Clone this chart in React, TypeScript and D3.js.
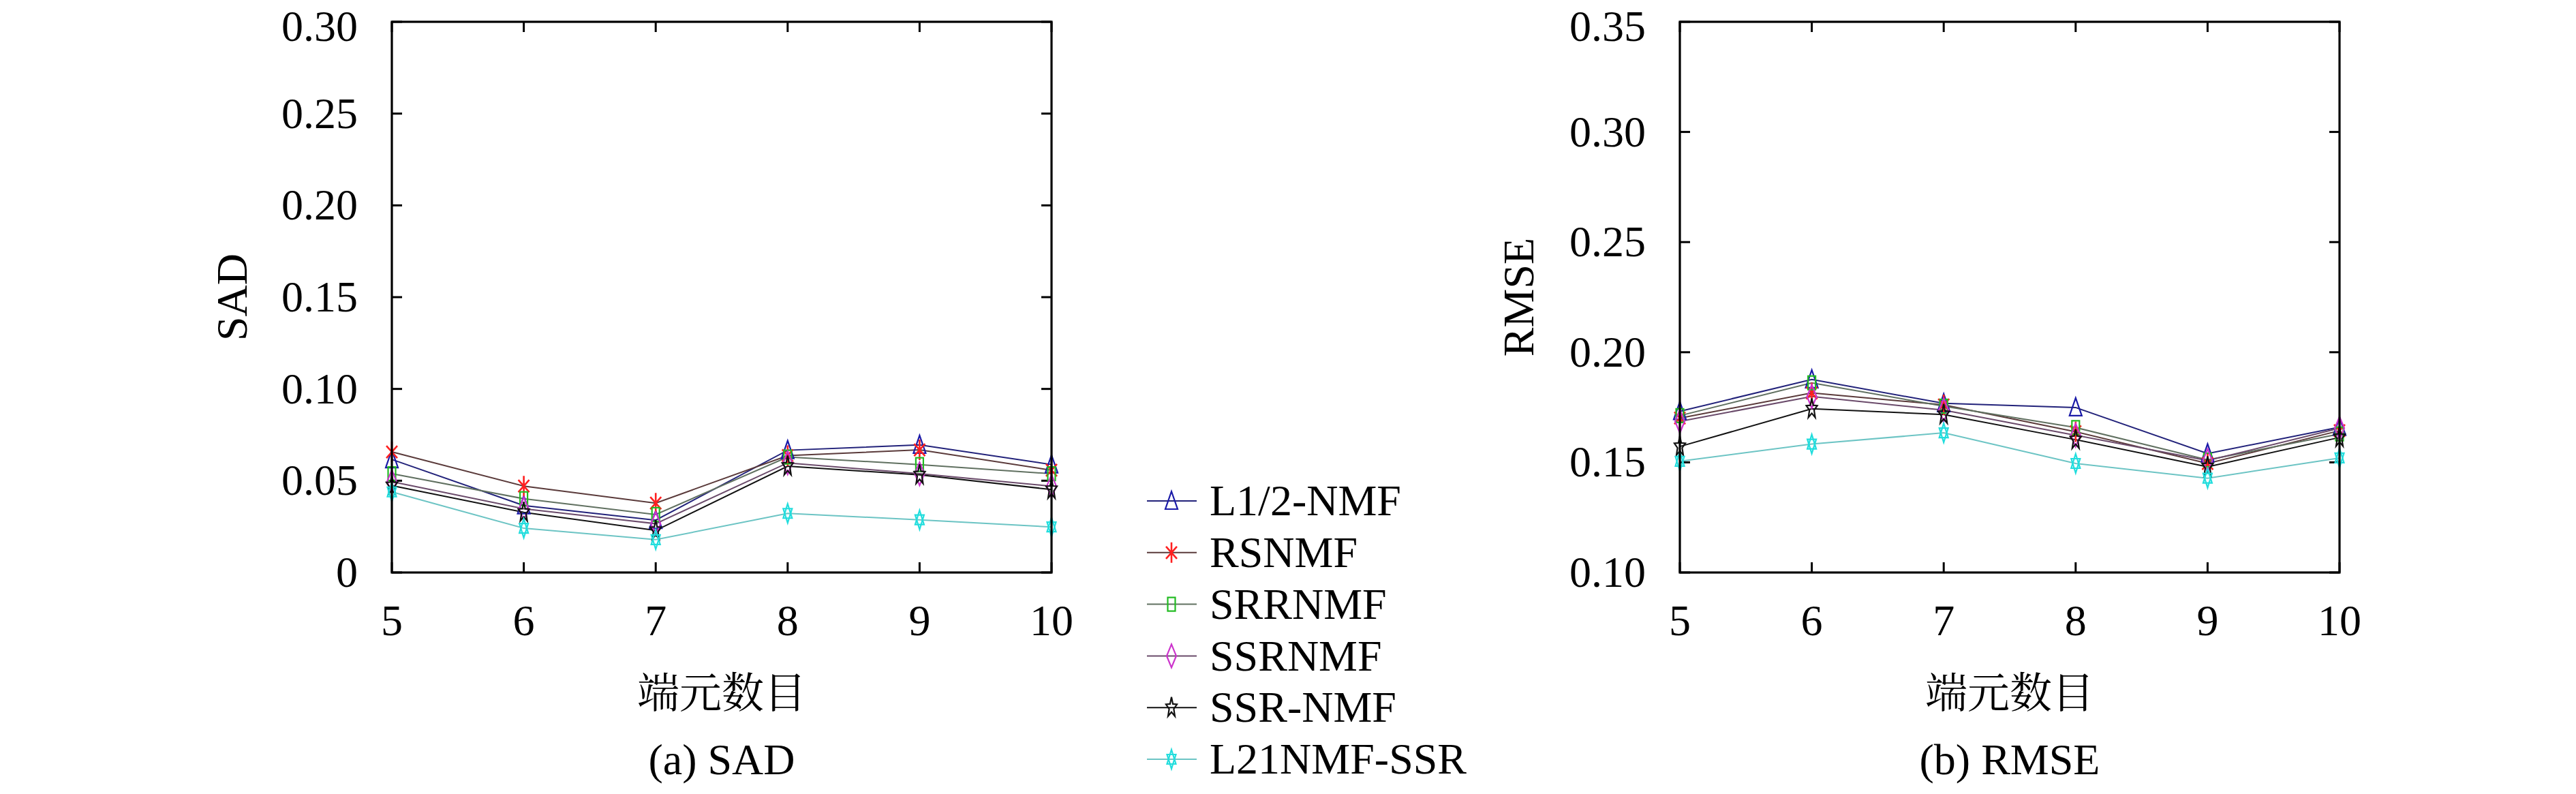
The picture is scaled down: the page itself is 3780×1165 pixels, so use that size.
import React from 'react';
import * as d3 from 'd3';

const endmembers = [5, 6, 7, 8, 9, 10];

const seriesNames = ['L1/2-NMF', 'RSNMF', 'SRRNMF', 'SSRNMF', 'SSR-NMF', 'L21NMF-SSR'];

// SAD values, one array per method
const sadL12 = [0.0616, 0.0365, 0.0285, 0.0666, 0.0695, 0.0588];
const sadRS = [0.0657, 0.0471, 0.0378, 0.0637, 0.0668, 0.0557];
const sadSRR = [0.0538, 0.0402, 0.0316, 0.0629, 0.0588, 0.0538];
const sadSSRN = [0.0495, 0.0347, 0.0266, 0.0597, 0.0538, 0.047];
const sadSSR = [0.0473, 0.0328, 0.0229, 0.0579, 0.0532, 0.0452];
const sadL21 = [0.0439, 0.0241, 0.0179, 0.0322, 0.0287, 0.0248];

// RMSE values
const rmseL12 = [0.1732, 0.1876, 0.1768, 0.1749, 0.154, 0.166];
const rmseRS = [0.1701, 0.1815, 0.1761, 0.1639, 0.1495, 0.1644];
const rmseSRR = [0.1712, 0.1861, 0.1755, 0.1658, 0.1511, 0.1629];
const rmseSSRN = [0.1686, 0.1799, 0.1737, 0.1623, 0.1508, 0.1655];
const rmseSSR = [0.1572, 0.1743, 0.1717, 0.1603, 0.148, 0.1613];
const rmseL21 = [0.1505, 0.1583, 0.1634, 0.1495, 0.1428, 0.152];

const sadTicks = [0, 0.05, 0.1, 0.15, 0.2, 0.25, 0.3];
const rmseTicks = [0.1, 0.15, 0.2, 0.25, 0.3, 0.35];

const lineColors = ['#22227a', '#5a3a3a', '#607060', '#6a4a6a', '#111111', '#6cc4c4'];
const markColors = ['#1a1aa8', '#ff2020', '#22bb22', '#cc33cc', '#111111', '#22dddd'];

const FONT = '"Liberation Serif", "DejaVu Serif", serif';
const CJK = '"Noto Serif CJK SC", "Noto Sans CJK SC", serif';

function Marker({ kind, x, y }: { kind: number; x: number; y: number }) {
  const c = markColors[kind];
  const common = { fill: 'none', stroke: c, strokeWidth: 2.2 };
  if (kind === 0) {
    return <path {...common} d={`M${x},${y - 14} L${x + 9},${y + 12} L${x - 9},${y + 12} Z`} />;
  }
  if (kind === 1) {
    return (
      <path
        {...common}
        strokeWidth={2.6}
        d={`M${x},${y - 15} L${x},${y + 15} M${x - 8},${y - 9} L${x + 8},${y + 9} M${x - 8},${y + 9} L${x + 8},${y - 9}`}
      />
    );
  }
  if (kind === 2) {
    return <rect {...common} x={x - 5.5} y={y - 10} width={11} height={20} />;
  }
  if (kind === 3) {
    return <path {...common} d={`M${x},${y - 17} L${x + 7},${y} L${x},${y + 17} L${x - 7},${y} Z`} />;
  }
  if (kind === 4) {
    const pts = d3.range(10).map((i) => {
      const a = -Math.PI / 2 + (i * Math.PI) / 5;
      const r = i % 2 === 0 ? 1 : 0.42;
      return [x + Math.cos(a) * r * 8.5, y + Math.sin(a) * r * 15.5];
    });
    return <path {...common} d={`M${pts.map((p) => p.join(',')).join('L')}Z`} />;
  }
  // hexagram
  const tri = (flip: number) =>
    d3.range(3).map((i) => {
      const a = flip * -Math.PI / 2 + (i * 2 * Math.PI) / 3;
      return [x + Math.cos(a) * 7.5, y + Math.sin(a) * 14];
    });
  const t1 = tri(1);
  const t2 = tri(-1);
  return (
    <g>
      <path {...common} d={`M${t1.map((p) => p.join(',')).join('L')}Z`} />
      <path {...common} d={`M${t2.map((p) => p.join(',')).join('L')}Z`} />
    </g>
  );
}

interface PanelProps {
  left: number;
  series: number[][];
  domain: [number, number];
  ticks: number[];
  yLabel: string;
  yLabelX: number;
  caption: string;
  fmt: (d: number) => string;
}

function Panel({ left, series, domain, ticks, yLabel, yLabelX, caption, fmt }: PanelProps) {
  const top = 32;
  const bottom = 840;
  const width = 968;
  const right = left + width;
  const x = d3.scaleLinear().domain([5, 10]).range([left, right]);
  const y = d3.scaleLinear().domain(domain).range([bottom, top]);
  const line = d3
    .line<number>()
    .x((_, i) => x(endmembers[i]))
    .y((d) => y(d));
  const tl = 15;
  const cx = (left + right) / 2;

  return (
    <g>
      {/* tick marks, inward on all sides */}
      {ticks.map((t) => (
        <g key={`yt${t}`} stroke="#000" strokeWidth={3}>
          <line x1={left} x2={left + tl} y1={y(t)} y2={y(t)} />
          <line x1={right} x2={right - tl} y1={y(t)} y2={y(t)} />
        </g>
      ))}
      {endmembers.map((e) => (
        <g key={`xt${e}`} stroke="#000" strokeWidth={3}>
          <line x1={x(e)} x2={x(e)} y1={bottom} y2={bottom - tl} />
          <line x1={x(e)} x2={x(e)} y1={top} y2={top + tl} />
        </g>
      ))}

      {series.map((s, k) => (
        <path key={`l${k}`} d={line(s) || ''} fill="none" stroke={lineColors[k]} strokeWidth={2} />
      ))}
      {series.map((s, k) =>
        s.map((v, i) => <Marker key={`m${k}-${i}`} kind={k} x={x(endmembers[i])} y={y(v)} />)
      )}

      <rect x={left} y={top} width={width} height={bottom - top} fill="none" stroke="#000" strokeWidth={3.2} />

      {ticks.map((t) => (
        <text
          key={`yl${t}`}
          x={left - 50}
          y={Math.max(y(t) + 21, 60)}
          textAnchor="end"
          fontSize={64}
          fontFamily={FONT}
        >
          {fmt(t)}
        </text>
      ))}
      {endmembers.map((e) => (
        <text key={`xl${e}`} x={x(e)} y={932} textAnchor="middle" fontSize={64} fontFamily={FONT}>
          {e}
        </text>
      ))}
      <text
        transform={`translate(${yLabelX},${(top + bottom) / 2}) rotate(-90)`}
        textAnchor="middle"
        dy="0.33em"
        fontSize={64}
        fontFamily={FONT}
      >
        {yLabel}
      </text>
      <text x={cx} y={1039} textAnchor="middle" fontSize={62} fontFamily={CJK}>
        端元数目
      </text>
      <text x={cx} y={1136} textAnchor="middle" fontSize={64} fontFamily={FONT}>
        {caption}
      </text>
    </g>
  );
}

export default function App() {
  const sad = [sadL12, sadRS, sadSRR, sadSSRN, sadSSR, sadL21];
  const rmse = [rmseL12, rmseRS, rmseSRR, rmseSSRN, rmseSSR, rmseL21];
  const legendY = d3.scaleLinear().domain([0, 5]).range([735, 1114]);

  return (
    <div style={{ position: 'absolute', left: 0, top: 0 }}>
      <svg width={3780} height={1165} viewBox="0 0 3780 1165" style={{ display: 'block', background: '#fff' }}>
        <Panel
          left={575}
          series={sad}
          domain={[0, 0.3]}
          ticks={sadTicks}
          yLabel="SAD"
          yLabelX={341}
          caption="(a) SAD"
          fmt={(d) => (d === 0 ? '0' : d.toFixed(2))}
        />
        <Panel
          left={2465}
          series={rmse}
          domain={[0.1, 0.35]}
          ticks={rmseTicks}
          yLabel="RMSE"
          yLabelX={2229}
          caption="(b) RMSE"
          fmt={(d) => d.toFixed(2)}
        />
        {seriesNames.map((name, k) => (
          <g key={name}>
            <line x1={1683} x2={1756} y1={legendY(k)} y2={legendY(k)} stroke={lineColors[k]} strokeWidth={2} />
            <Marker kind={k} x={1719} y={legendY(k)} />
            <text x={1775} y={legendY(k)} dy="0.33em" fontSize={64} fontFamily={FONT}>
              {name}
            </text>
          </g>
        ))}
      </svg>
    </div>
  );
}
